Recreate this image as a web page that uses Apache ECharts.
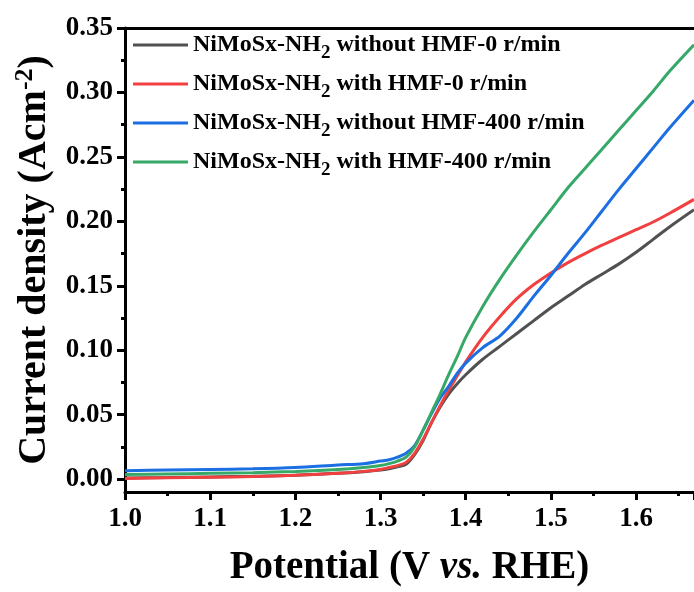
<!DOCTYPE html>
<html><head><meta charset="utf-8">
<script src="https://cdn.jsdelivr.net/npm/echarts@6/dist/echarts.min.js"></script>
<style>html,body{margin:0;padding:0;background:#fff}#c{width:694px;height:592px}</style>
</head><body><div id="c"></div>
<script>
const potential = [1.00, 1.05, 1.10, 1.15, 1.20, 1.25, 1.28, 1.30, 1.31, 1.32, 1.33, 1.34, 1.35, 1.36, 1.37, 1.38, 1.39, 1.40, 1.42, 1.44, 1.46, 1.48, 1.50, 1.52, 1.54, 1.56, 1.58, 1.60, 1.62, 1.64, 1.668];
const grayWithout0 = [0.0008, 0.0012, 0.0017, 0.0022, 0.003, 0.0045, 0.0058, 0.0070, 0.0080, 0.0095, 0.0115, 0.019, 0.030, 0.044, 0.056, 0.066, 0.074, 0.081, 0.093, 0.103, 0.113, 0.123, 0.133, 0.142, 0.151, 0.159, 0.167, 0.176, 0.186, 0.196, 0.209];
const redWith0 = [0.0005, 0.001, 0.0015, 0.002, 0.003, 0.0045, 0.006, 0.0075, 0.009, 0.0105, 0.013, 0.020, 0.031, 0.044, 0.057, 0.069, 0.080, 0.091, 0.110, 0.126, 0.140, 0.151, 0.160, 0.168, 0.175, 0.1815, 0.1875, 0.1935, 0.1995, 0.2065, 0.217];
const blueWithout400 = [0.0065, 0.007, 0.0075, 0.008, 0.009, 0.011, 0.012, 0.014, 0.015, 0.017, 0.020, 0.026, 0.038, 0.051, 0.063, 0.072, 0.082, 0.090, 0.102, 0.111, 0.125, 0.142, 0.158, 0.175, 0.191, 0.208, 0.225, 0.241, 0.257, 0.273, 0.294];
const greenWith400 = [0.0035, 0.004, 0.0045, 0.005, 0.006, 0.0075, 0.009, 0.0105, 0.012, 0.014, 0.017, 0.025, 0.038, 0.052, 0.066, 0.081, 0.095, 0.110, 0.134, 0.155, 0.174, 0.192, 0.209, 0.226, 0.241, 0.256, 0.271, 0.286, 0.301, 0.317, 0.337];
const yMajorTicks = [0, 0.05, 0.10, 0.15, 0.20, 0.25, 0.30, 0.35];
const yMinorTicks = [0.025, 0.075, 0.125, 0.175, 0.225, 0.275, 0.325];
const seriesNames = ['NiMoSx-NH2 without HMF-0 r/min', 'NiMoSx-NH2 with HMF-0 r/min', 'NiMoSx-NH2 without HMF-400 r/min', 'NiMoSx-NH2 with HMF-400 r/min'];
const seriesColors = ['#515151', '#f23f3f', '#1b6fe3', '#36a867'];
const seriesValues = [grayWithout0, redWith0, blueWithout400, greenWith400];

const FF = 'Liberation Serif';
const chart = echarts.init(document.getElementById('c'));
const lineBlack = {color: '#000', width: 3};
const labelFont = {color: '#000', fontFamily: FF, fontWeight: 'bold', fontSize: 27};
chart.setOption({
  animation: false,
  grid: {left: 125, right: 0, top: 28, bottom: 96, containLabel: false},
  legend: {
    orient: 'vertical', left: 128, top: 28, itemWidth: 55, itemHeight: 3, itemGap: 9,
    icon: 'rect',
    data: seriesNames,
    formatter: n => { const p = n.split('NH2'); return '{a|' + p[0] + 'NH}{s|2}{a|' + p[1] + '}'; },
    textStyle: {
      color: '#000', fontFamily: FF, fontWeight: 'bold',
      rich: {
        a: {fontSize: 24, lineHeight: 36, fontFamily: FF, fontWeight: 'bold', color: '#000'},
        s: {fontSize: 19, lineHeight: 17, verticalAlign: 'bottom', fontFamily: FF, fontWeight: 'bold', color: '#000'}
      }
    }
  },
  xAxis: [{
    type: 'value', min: 1.0, max: 1.668, interval: 0.1,
    axisLine: {show: true, onZero: false, lineStyle: lineBlack},
    axisTick: {show: true, length: 8, lineStyle: lineBlack},
    minorTick: {show: true, splitNumber: 2, length: 4, lineStyle: lineBlack},
    splitLine: {show: false},
    axisLabel: Object.assign({}, labelFont, {margin: 14, showMaxLabel: false, formatter: v => v.toFixed(1)}),
    name: '{a|Potential (V }{i|vs.}{a| RHE)}', nameLocation: 'middle', nameGap: 56,
    nameTextStyle: {
      rich: {
        a: {fontSize: 39, fontFamily: FF, fontWeight: 'bold', color: '#000'},
        i: {fontSize: 39, fontFamily: FF, fontWeight: 'bold', fontStyle: 'italic', color: '#000'}
      }
    }
  }, {
    type: 'value', position: 'top', min: 1.0, max: 1.668,
    axisLine: {show: true, onZero: false, lineStyle: lineBlack},
    axisTick: {show: false}, axisLabel: {show: false}, splitLine: {show: false}
  }],
  yAxis: [{
    type: 'value', min: -0.01, max: 0.35, position: 'left',
    axisLine: {show: true, onZero: false, lineStyle: lineBlack},
    axisTick: {show: true, length: 8, lineStyle: lineBlack, customValues: yMajorTicks},
    splitLine: {show: false},
    axisLabel: Object.assign({}, labelFont, {margin: 12, customValues: yMajorTicks, formatter: v => v.toFixed(2)}),
    name: '{a|Current density (Acm}{p|-2}{a|)}', nameLocation: 'middle', nameGap: 43, nameRotate: 90,
    nameTextStyle: {
      rich: {
        a: {fontSize: 40, lineHeight: 46, fontFamily: FF, fontWeight: 'bold', color: '#000'},
        p: {fontSize: 26, lineHeight: 26, verticalAlign: 'top', fontFamily: FF, fontWeight: 'bold', color: '#000'}
      }
    }
  }, {
    type: 'value', min: -0.01, max: 0.35, position: 'left', offset: 0,
    axisLine: {show: false},
    axisTick: {show: true, length: 4, lineStyle: lineBlack, customValues: yMinorTicks},
    axisLabel: {show: false}, splitLine: {show: false}
  }],
  series: seriesNames.map((n, k) => ({
    name: n, type: 'line', xAxisIndex: 0, yAxisIndex: 0, showSymbol: false, smooth: 0.3,
    color: seriesColors[k],
    lineStyle: {width: 3, color: seriesColors[k]},
    itemStyle: {color: seriesColors[k]},
    data: potential.map((x, i) => [x, seriesValues[k][i]])
  }))
});
</script></body></html>
